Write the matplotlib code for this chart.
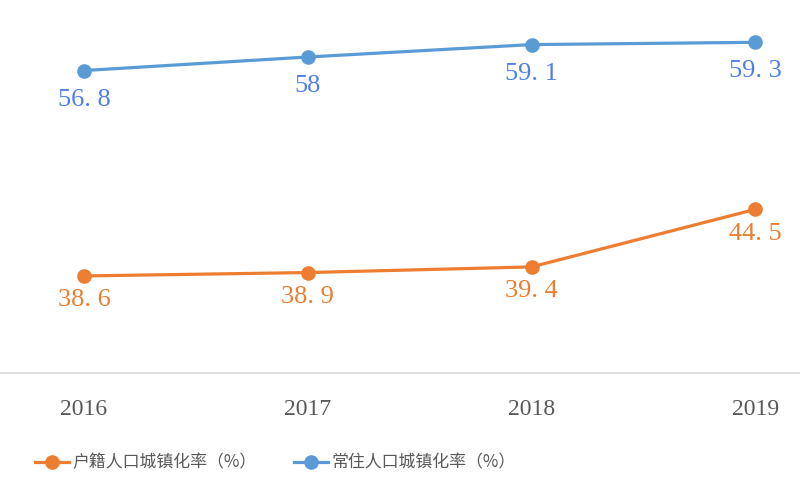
import matplotlib.pyplot as plt

plt.rcParams['font.family'] = ['Noto Sans CJK SC', 'DejaVu Sans']

years = ['2016', '2017', '2018', '2019']
huji = [38.6, 38.9, 39.4, 44.5]
changzhu = [56.8, 58.0, 59.1, 59.3]
huji_name = '户籍人口城镇化率（%）'
changzhu_name = '常住人口城镇化率（%）'

orange = '#ED7D31'
blue = '#5B9BD5'
blue_text = '#4F7FE8'
gray = '#595959'

fig = plt.figure(figsize=(8, 5), dpi=100)
# axes runs past the figure edges, the reference is a cropped screenshot
ax = fig.add_axes([-0.035, 0.254, 1.119, 0.79])

x = list(range(len(years)))
ax.plot(x, huji, color=orange, lw=2.3, marker='o', ms=9.5, label=huji_name)
ax.plot(x, changzhu, color=blue, lw=2.3, marker='o', ms=9.5, label=changzhu_name)

def fmt(v):
    s = f'{v:.1f}'
    if s.endswith('.0'):
        s = s[:-2]
    return s.replace('.', '. ')

for xi, v in zip(x, changzhu):
    ax.annotate(fmt(v), (xi, v), xytext=(0, -21), textcoords='offset points',
                ha='center', va='center', color=blue_text, fontsize=19,
                family=['Liberation Serif'])
for xi, v in zip(x, huji):
    ax.annotate(fmt(v), (xi, v), xytext=(0, -17.5), textcoords='offset points',
                ha='center', va='center', color=orange, fontsize=19,
                family=['Liberation Serif'])

ax.set_xlim(-0.5, len(years) - 0.5)
ax.set_ylim(30, 65)
ax.set_xticks(x)
ax.set_xticklabels(years, family=['Liberation Serif'], fontsize=17, color=gray)
ax.tick_params(axis='x', length=0, pad=19)
ax.set_yticks([])
for side in ['top', 'right', 'left']:
    ax.spines[side].set_visible(False)
ax.spines['bottom'].set_color('#D9D9D9')
ax.spines['bottom'].set_linewidth(1.2)

fig.legend(loc='center left', bbox_to_anchor=(0.025, 0.075), ncol=2, frameon=False,
           fontsize=12.2, handlelength=2.0, handletextpad=0.2, columnspacing=2.2,
           labelcolor=gray)

fig.savefig('out.png', dpi=100)
